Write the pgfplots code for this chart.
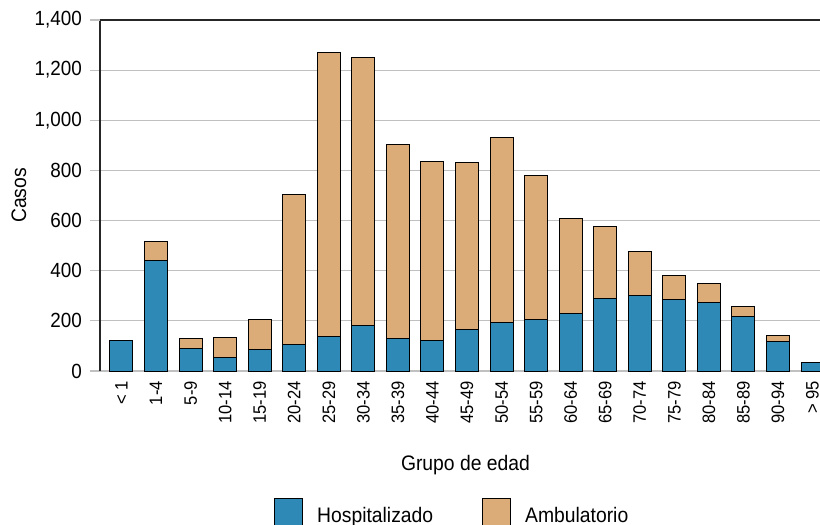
\documentclass[border=0pt]{standalone}
\usepackage{fontspec}
\setmainfont{Liberation Sans}[FakeStretch=0.92]
\usepackage{pgfplots}
\pgfplotsset{compat=1.18}
\definecolor{hosp}{RGB}{46,137,182}
\definecolor{amb}{RGB}{219,172,119}
\definecolor{gridgray}{RGB}{192,192,192}

\begin{document}
\begin{tikzpicture}
\path[use as bounding box] (-100pt,-154pt) rectangle (720pt,371pt);
\begin{axis}[
    at={(0,0)}, anchor=south west,
    scale only axis, width=722.9pt, height=351pt,
    ybar stacked, bar width=23pt,
    xmin=-0.622, xmax=20.3,
    ymin=0, ymax=1400,
    xtick={0,...,20},
    xticklabels={< 1,1-4,5-9,10-14,15-19,20-24,25-29,30-34,35-39,40-44,45-49,50-54,55-59,60-64,65-69,70-74,75-79,80-84,85-89,90-94,> 95},
    ytick={0,200,...,1200}, extra y ticks={1400},
    extra y tick style={grid style={black!85, line width=1.2pt}},
    ymajorgrids, grid style={gridgray, line width=1.2pt},
    separate axis lines, axis x line*=bottom, axis y line*=left,
    axis line style={-},
    y axis line style={black!85, line width=1.2pt},
    x axis line style={gridgray, line width=1.2pt},
    tick align=outside, major tick length=10pt,
    y tick style={gridgray, line width=1.2pt},
    x tick style={draw=none},
    /pgf/number format/assume math mode=true,
    /pgf/number format/1000 sep={,},
    yticklabel style={font=\fontsize{20.5}{24}\selectfont, inner sep=0pt, xshift=-8pt},
    xticklabel style={font=\fontsize{18}{21}\selectfont, rotate=90, anchor=east, inner sep=0pt},
    ylabel={Casos}, xlabel={Grupo de edad},
    every axis y label/.style={at={(rel axis cs:0,0.5)}, xshift=-81pt, rotate=90, anchor=center, font=\fontsize{21}{25}\selectfont},
    every axis x label/.style={at={(rel axis cs:0.5,0)}, xshift=4pt, yshift=-94pt, anchor=center, font=\fontsize{21}{25}\selectfont},
    legend columns=2,
    legend image code/.code={\draw[#1] (0pt,-10.8pt) rectangle (28pt,17.2pt);},
    legend style={at={(rel axis cs:0,0)}, anchor=north west, xshift=174pt, yshift=-127pt,
        draw=none, fill=none, inner sep=0pt, font=\fontsize{21}{25}\selectfont,
        nodes={inner sep=0pt},
        /tikz/every odd column/.append style={column sep=14pt},
        /tikz/every even column/.append style={column sep=49pt}},
]
\addplot[fill=hosp, draw=black, line width=1pt] coordinates {
    (0,121) (1,439) (2,89) (3,52) (4,85) (5,106) (6,138) (7,182) (8,128) (9,122)
    (10,164) (11,193) (12,207) (13,230) (14,291) (15,302) (16,287) (17,274) (18,219) (19,118) (20,32)
};
\addplot[fill=amb, draw=black, line width=1pt] coordinates {
    (0,1) (1,78) (2,40) (3,81) (4,122) (5,597) (6,1132) (7,1068) (8,775) (9,714)
    (10,666) (11,740) (12,571) (13,377) (14,286) (15,173) (16,95) (17,74) (18,38) (19,23) (20,0)
};
\legend{Hospitalizado, Ambulatorio}
\end{axis}
\end{tikzpicture}
\end{document}
